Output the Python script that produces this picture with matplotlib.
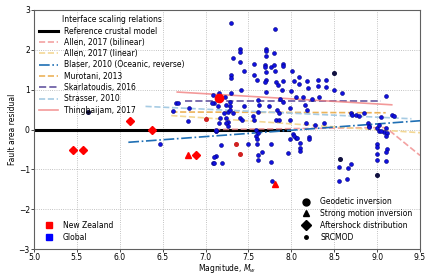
import numpy as np
import matplotlib.pyplot as plt
from matplotlib.lines import Line2D

# ---- scaling relation curves (magnitude, residual) ----
ref_mw = [5.0, 7.97]
ref_res = [0.0, 0.0]
allen_bi_mw = [7.1, 9.1, 9.5]
allen_bi_res = [0.0, 0.05, -0.65]
allen_lin_mw = [6.6, 9.5]
allen_lin_res = [0.35, -0.08]
blaser_mw = [6.1, 9.5]
blaser_res = [-0.32, 0.22]
murotani_mw = [6.6, 9.1]
murotani_res = [0.44, 0.42]
skarl_mw = [6.76, 9.05]
skarl_res = [0.72, 0.72]
strasser_mw = [6.3, 9.4]
strasser_res = [0.58, 0.27]
thing_mw = [6.67, 9.17]
thing_res = [0.94, 0.62]

# ---- New Zealand events ----
nz_after_mw = [5.46, 5.57, 6.12, 6.38, 6.89]
nz_after_res = [-0.52, -0.52, 0.21, 0.0, -0.65]
nz_strong_mw = [6.79, 7.81]
nz_strong_res = [-0.65, -1.36]
nz_geo_mw = [7.16]
nz_geo_res = [0.78]
nz_src_mw = [7.0, 7.36, 7.40]
nz_src_res = [0.27, -0.37, -0.62]

# ---- Global SRCMOD events ----
gl_mw = [7.30, 7.81, 7.40, 7.40, 7.32, 7.40, 7.70, 7.70, 7.80, 7.71, 7.56, 7.69, 7.69,
         7.76, 7.80, 7.81, 7.90, 7.90, 7.45, 7.57, 7.30, 7.30, 7.70, 7.60, 7.70, 7.69,
         7.82, 7.84, 7.90, 8.01, 8.09, 8.03, 8.09, 8.18, 8.31, 8.40, 8.31, 8.40, 8.50,
         8.59, 8.19, 8.00, 7.89, 7.71, 7.41, 7.30, 7.16, 7.09, 7.23, 8.05, 8.13, 8.24,
         8.32, 9.10, 7.87, 7.90, 7.61, 7.62, 7.29, 7.28, 7.10, 7.45, 7.74, 7.98, 8.16,
         8.18, 7.32, 7.26, 7.22, 7.61, 7.83, 7.86, 8.69, 8.75, 8.85, 9.04, 9.17, 9.20,
         7.40, 7.43, 7.24, 7.26, 7.55, 7.57, 7.82, 7.86, 7.98, 8.17, 8.27, 8.38, 8.89,
         8.91, 9.00, 9.02, 9.08, 7.16, 7.59, 7.61, 7.59, 8.02, 8.05, 8.21, 7.12, 7.18,
         7.12, 7.09, 7.19, 7.50, 7.60, 7.60, 7.61, 7.61, 7.66, 7.76, 7.76, 7.78, 7.96,
         7.99, 8.03, 8.07, 8.10, 8.10, 8.10, 8.21, 8.56, 8.66, 8.70, 8.56, 8.65, 9.00,
         9.00, 9.00, 9.00, 9.11, 9.10, 9.10, 9.04, 9.12, 9.10, 6.66, 6.62, 6.79, 6.81,
         7.14, 7.24, 7.28, 7.17, 7.24, 7.26, 7.12, 8.71, 8.79, 8.91, 9.02, 9.10, 6.47,
         7.10, 7.10, 7.12, 6.68, 7.08]
gl_res = [2.66, 2.51, 2.03, 1.95, 1.79, 1.70, 2.03, 1.97, 1.93, 1.85, 1.65, 1.63, 1.58,
          1.56, 1.62, 1.48, 1.65, 1.59, 1.46, 1.36, 1.36, 1.29, 1.44, 1.23, 1.23, 1.18,
          1.19, 1.11, 1.21, 1.46, 1.32, 1.21, 1.15, 1.21, 1.23, 1.23, 1.09, 1.07, 0.99,
          0.91, 1.05, 0.97, 1.00, 0.93, 0.99, 0.92, 0.92, 0.86, 0.82, 0.82, 0.82, 0.77,
          0.82, 0.85, 0.76, 0.70, 0.74, 0.62, 0.70, 0.58, 0.66, 0.59, 0.59, 0.54, 0.62,
          0.49, 0.41, 0.43, 0.41, 0.45, 0.49, 0.41, 0.41, 0.37, 0.41, 0.31, 0.37, 0.33,
          0.29, 0.25, 0.29, 0.20, 0.33, 0.23, 0.25, 0.23, 0.25, 0.16, 0.12, 0.16, 0.16,
          0.08, 0.04, -0.04, -0.07, 0.16, 0.00, -0.08, -0.17, -0.12, -0.20, -0.19, -0.04, -0.40,
          -0.67, -0.85, -0.85, -0.37, -0.23, -0.37, -0.64, -0.76, -0.56, -0.37, -0.82, -1.30, -0.58,
          -0.23, -0.15, -0.20, -0.33, -0.47, -0.54, -0.23, -0.95, -0.97, -0.86, -1.29, -1.23, -0.37,
          -0.45, -0.62, -0.76, -0.48, -0.56, -0.78, -0.04, -0.08, -0.17, 0.66, 0.47, 0.21, 0.54,
          0.58, 0.62, 0.49, 0.29, 0.17, 0.08, -0.04, 0.37, 0.33, 0.06, 0.12, 0.04, -0.37,
          -0.70, -0.85, 0.00, 0.66, 0.66]
# a few darker SRCMOD points
gl_dark_mw = [8.50, 8.57, 9.00, 5.63]
gl_dark_res = [1.42, -0.74, -1.14, 0.45]

plt.rcParams['font.family'] = 'DejaVu Sans'
fig = plt.figure(figsize=(4.28, 2.75), dpi=100)
ax = fig.add_axes([0.0794, 0.094, 0.902, 0.87])

# scaling relations
ax.plot(ref_mw, ref_res, color='black', lw=2.2, zorder=2)
l_ab, = ax.plot(allen_bi_mw, allen_bi_res, color='#f08a8a', ls='--', lw=1.2, alpha=0.8)
l_al, = ax.plot(allen_lin_mw, allen_lin_res, color='#f2d48a', ls='--', lw=1.2, alpha=0.9)
l_bl, = ax.plot(blaser_mw, blaser_res, color='#1f6fb4', ls='-.', lw=1.2)
l_mu, = ax.plot(murotani_mw, murotani_res, color='#e8a030', ls='--', lw=1.2, alpha=0.8)
l_sk, = ax.plot(skarl_mw, skarl_res, color='#5a4a9a', ls='--', lw=1.4, alpha=0.8)
l_st, = ax.plot(strasser_mw, strasser_res, color='#a6cbe3', ls='--', lw=1.2)
l_th, = ax.plot(thing_mw, thing_res, color='#f08080', ls='-', lw=1.2, alpha=0.8)

# data points
ax.plot(gl_mw, gl_res, 'o', color='#1010e0', mec='#000080', mew=0.4, ms=2.8, ls='none', zorder=3)
ax.plot(gl_dark_mw, gl_dark_res, 'o', color='#101040', ms=2.6, ls='none', zorder=3)
ax.plot(nz_after_mw, nz_after_res, 'D', color='red', ms=4.5, ls='none', zorder=4)
ax.plot(nz_strong_mw, nz_strong_res, '^', color='red', ms=4.5, ls='none', zorder=4)
ax.plot(nz_geo_mw, nz_geo_res, 'o', color='red', ms=6, ls='none', zorder=4)
ax.plot(nz_src_mw, nz_src_res, 'o', color='#d02020', ms=2.6, ls='none', zorder=4)

ax.set_xlim(5.0, 9.5)
ax.set_ylim(-3, 3)
ax.set_xticks(np.arange(5.0, 9.51, 0.5))
ax.set_yticks(np.arange(-3, 4, 1))
ax.tick_params(labelsize=5.5, length=2, width=0.5, pad=1)
ax.grid(True, ls=':', color='#b0b0b0', lw=0.6)
for s in ax.spines.values():
    s.set_color('#606060')
    s.set_linewidth(0.8)
ax.set_xlabel('Magnitude, $M_w$', fontsize=5.5, labelpad=0)
ax.set_ylabel('Fault area residual', fontsize=5.5, labelpad=1)

# legends
ref_h = Line2D([], [], color='black', lw=2.2)
leg1 = ax.legend([ref_h, l_ab, l_al, l_bl, l_mu, l_sk, l_st, l_th],
                 ['Reference crustal model', 'Allen, 2017 (bilinear)', 'Allen, 2017 (linear)',
                  'Blaser, 2010 (Oceanic, reverse)', 'Murotani, 2013', 'Skarlatoudis, 2016',
                  'Strasser, 2010', 'Thingbaijam, 2017'],
                 title='Interface scaling relations', title_fontsize=5.5, fontsize=5.5,
                 loc='upper left', frameon=False, handlelength=2.4, labelspacing=0.3,
                 borderaxespad=0.3)
ax.add_artist(leg1)

reg_h = [Line2D([], [], marker='s', color='red', ls='none', ms=5),
         Line2D([], [], marker='s', color='blue', ls='none', ms=5)]
leg2 = ax.legend(reg_h, ['New Zealand', 'Global'], fontsize=5.5, loc='lower left',
                 frameon=False, borderaxespad=0.6, labelspacing=0.35)
ax.add_artist(leg2)

met_h = [Line2D([], [], marker='o', color='black', ls='none', ms=5),
         Line2D([], [], marker='^', color='black', ls='none', ms=5),
         Line2D([], [], marker='D', color='black', ls='none', ms=5),
         Line2D([], [], marker='o', color='black', ls='none', ms=2.5)]
ax.legend(met_h, ['Geodetic inversion', 'Strong motion inversion', 'Aftershock distribution',
                  'SRCMOD'], fontsize=5.5, loc='lower right', frameon=False,
          borderaxespad=0.6, labelspacing=0.35)

fig.savefig('out.png', dpi=100, facecolor='white')
